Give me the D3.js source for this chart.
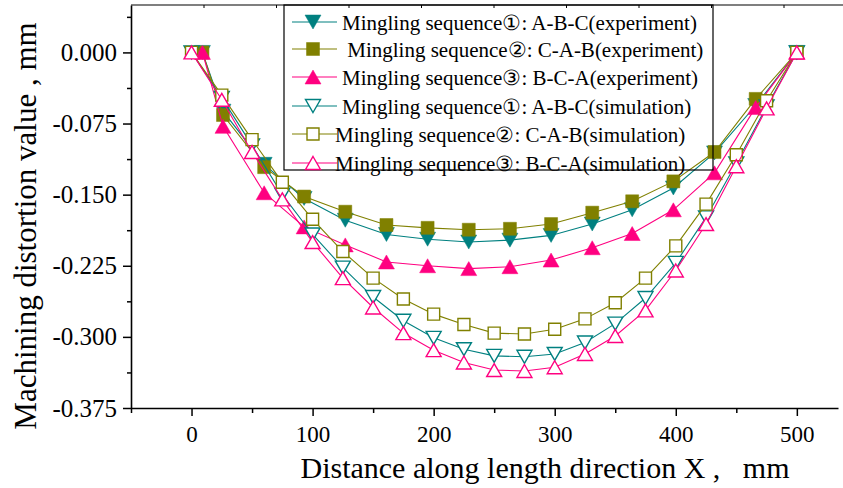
<!DOCTYPE html>
<html lang="en">
<head>
<meta charset="UTF-8">
<title>Machining distortion</title>
<script src="https://d3js.org/d3.v7.min.js"></script>
<style>
  body { margin: 0; background: #fff; }
  svg { display: block; }
  text { font-family: "Liberation Serif", "Times New Roman", serif; fill: #000; }
  .axis path, .axis line { stroke: #000; }
</style>
</head>
<body>
<script>
// x positions (mm)
const xExp = [9, 26, 60, 93, 127, 161, 195, 229, 263, 297, 331, 364, 398, 432, 466, 500];
const xSim = [0, 25, 50, 75, 100, 125, 150, 175, 200, 225, 250, 275, 300, 325, 350, 375, 400, 425, 450, 475, 500];

// experiment series
const exp1 = [0, -0.062, -0.118, -0.154, -0.177, -0.192, -0.197, -0.200, -0.198, -0.193, -0.181, -0.166, -0.143, -0.106, -0.056, 0];
const exp2 = [0, -0.066, -0.121, -0.152, -0.168, -0.182, -0.185, -0.187, -0.186, -0.181, -0.169, -0.157, -0.136, -0.105, -0.049, 0];
const exp3 = [0, -0.078, -0.148, -0.184, -0.203, -0.221, -0.225, -0.228, -0.226, -0.219, -0.206, -0.191, -0.166, -0.127, -0.058, 0];

// simulation series
const sim1 = [0, -0.048, -0.098, -0.150, -0.192, -0.227, -0.258, -0.283, -0.301, -0.313, -0.320, -0.321, -0.318, -0.306, -0.286, -0.259, -0.222, -0.174, -0.117, -0.057, 0];
const sim2 = [0, -0.045, -0.092, -0.137, -0.176, -0.210, -0.238, -0.260, -0.276, -0.287, -0.296, -0.297, -0.292, -0.281, -0.264, -0.238, -0.204, -0.160, -0.108, -0.051, 0];
const sim3 = [0, -0.050, -0.105, -0.155, -0.200, -0.238, -0.269, -0.296, -0.314, -0.327, -0.335, -0.336, -0.332, -0.318, -0.299, -0.272, -0.230, -0.181, -0.120, -0.059, 0];

const legendLabels = [
  "Mingling sequence\u2460: A-B-C(experiment)",
  " Mingling sequence\u2461: C-A-B(experiment)",
  "Mingling sequence\u2462: B-C-A(experiment)",
  "Mingling sequence\u2460: A-B-C(simulation)",
  "Mingling sequence\u2461: C-A-B(simulation)",
  "Mingling sequence\u2462: B-C-A(simulation)"
];
const xMajor = [0, 100, 200, 300, 400, 500];
const xMinor = [-50, 50, 150, 250, 350, 450];
const yMajor = [0, -0.075, -0.15, -0.225, -0.3, -0.375];
const yMinor = [0.0375, -0.0375, -0.1125, -0.1875, -0.2625, -0.3375];

const teal = "#008080", olive = "#808000", pink = "#ff0080";
const serif = "Liberation Serif, Times New Roman, serif";

const series = [
  { x: xExp, y: exp1, color: teal, shape: "down", filled: true },
  { x: xExp, y: exp2, color: olive, shape: "square", filled: true },
  { x: xExp, y: exp3, color: pink, shape: "up", filled: true },
  { x: xSim, y: sim1, color: teal, shape: "down", filled: false },
  { x: xSim, y: sim2, color: olive, shape: "square", filled: false },
  { x: xSim, y: sim3, color: pink, shape: "up", filled: false }
];

const W = 843, H = 488;
const plotL = 131, plotR = 838, plotT = 5, plotB = 408;

const svg = d3.select("body").append("svg")
  .attr("width", W).attr("height", H);

const x = d3.scaleLinear().domain([-50, 534]).range([plotL, plotR]);
const y = d3.scaleLinear().domain([-0.375, 0.05]).range([plotB, plotT]);
// top frame carries its own evenly spaced ticks
const xTop = d3.scaleLinear().domain([0, 1]).range([plotL, plotL + 72.5]);

function markerPath(shape, filled) {
  const h = filled ? 7 : 6.5;
  if (shape === "square") {
    const s = filled ? 6.5 : 6;
    return `M${-s},${-s}H${s}V${s}H${-s}Z`;
  }
  const w = filled ? 8 : 7.5;
  if (shape === "up") return `M0,${-h}L${w},${h}L${-w},${h}Z`;
  return `M0,${h}L${w},${-h}L${-w},${-h}Z`;
}

// axes
svg.append("g").attr("class", "axis")
  .attr("transform", `translate(0,${plotB})`)
  .call(d3.axisBottom(x).tickValues(xMajor).tickSize(8).tickSizeOuter(0).tickFormat(d3.format("d")))
  .attr("font-family", serif).attr("font-size", 23)
  .call(g => g.select(".domain").attr("stroke-width", 1.6))
  .call(g => g.selectAll(".tick line").attr("stroke-width", 1.5))
  .call(g => g.selectAll(".tick text").attr("dy", "1.0em"));

svg.append("g").attr("class", "axis")
  .attr("transform", `translate(0,${plotB})`)
  .call(d3.axisBottom(x).tickValues(xMinor).tickSize(5).tickSizeOuter(0).tickFormat(""))
  .call(g => g.select(".domain").remove())
  .call(g => g.selectAll(".tick line").attr("stroke-width", 1.5));

svg.append("g").attr("class", "axis")
  .attr("transform", `translate(${plotL},0)`)
  .call(d3.axisLeft(y).tickValues(yMajor).tickSize(8).tickSizeOuter(0).tickFormat(d3.format(".3f")))
  .attr("font-family", serif).attr("font-size", 25)
  .call(g => g.select(".domain").attr("stroke-width", 1.6))
  .call(g => g.selectAll(".tick line").attr("stroke-width", 1.5))
  .call(g => g.selectAll(".tick text").attr("x", -14)
    .text(d => d3.format(".3f")(d).replace("\u2212", "-")));

svg.append("g").attr("class", "axis")
  .attr("transform", `translate(${plotL},0)`)
  .call(d3.axisLeft(y).tickValues(yMinor).tickSize(4).tickSizeOuter(0).tickFormat(""))
  .call(g => g.select(".domain").remove())
  .call(g => g.selectAll(".tick line").attr("stroke-width", 1.5));

// top frame
svg.append("g").attr("class", "axis")
  .attr("transform", `translate(0,${plotT})`)
  .call(d3.axisBottom(xTop).tickValues(d3.range(1, 10)).tickSize(3).tickSizeOuter(0).tickFormat(""))
  .call(g => g.select(".domain").attr("d", `M${plotL},0H${W}`).attr("stroke-width", 1.2))
  .call(g => g.selectAll(".tick line").attr("stroke-width", 1));

// series
const line = d3.line();
series.forEach(s => {
  const pts = s.x.map((v, i) => [x(v), y(s.y[i])]);
  svg.append("path")
    .attr("d", line(pts))
    .attr("fill", "none")
    .attr("stroke", s.color)
    .attr("stroke-width", 1.1);
  svg.append("g").selectAll("path")
    .data(pts)
    .enter().append("path")
    .attr("transform", d => `translate(${d[0]},${d[1]})`)
    .attr("d", markerPath(s.shape, s.filled))
    .attr("fill", s.filled ? s.color : "#fff")
    .attr("stroke", s.color)
    .attr("stroke-width", s.filled ? 0.5 : 1.4);
});

// legend
const legX = 284, legY = 5, legW = 429, legH = 165;
const rowY = [22, 49, 77, 106, 134, 163];
const textX = [342, 342, 342, 342, 335, 335];
const leg = svg.append("g");
leg.append("rect")
  .attr("x", legX).attr("y", legY).attr("width", legW).attr("height", legH)
  .attr("fill", "none").attr("stroke", "#000").attr("stroke-width", 1.2);
series.forEach((s, i) => {
  leg.append("line")
    .attr("x1", 292).attr("x2", 337).attr("y1", rowY[i]).attr("y2", rowY[i])
    .attr("stroke", s.color).attr("stroke-width", 1.1);
  leg.append("path")
    .attr("transform", `translate(313,${rowY[i]})`)
    .attr("d", markerPath(s.shape, s.filled))
    .attr("fill", s.filled ? s.color : "#fff")
    .attr("stroke", s.color)
    .attr("stroke-width", s.filled ? 0.5 : 1.4);
  leg.append("text")
    .attr("x", textX[i]).attr("y", rowY[i] + 7.5)
    .attr("xml:space", "preserve")
    .style("white-space", "pre")
    .style("font-size", "21px")
    .text(legendLabels[i]);
});

// axis titles
svg.append("text")
  .attr("x", 545).attr("y", 478)
  .attr("text-anchor", "middle")
  .style("font-size", "30px")
  .style("white-space", "pre")
  .text("Distance along length direction X ,   mm");

svg.append("text")
  .attr("transform", `translate(36,226) rotate(-90)`)
  .attr("text-anchor", "middle")
  .style("font-size", "31px")
  .text("Machining distortion value , mm");
</script>
</body>
</html>
